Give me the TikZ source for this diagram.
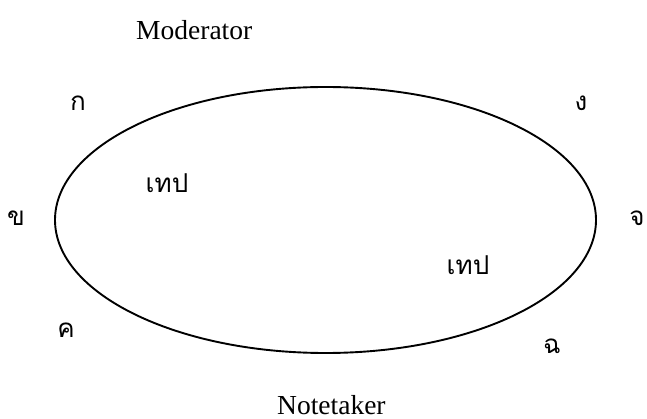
\documentclass[tikz,border=0pt]{standalone}
\usepackage{fontspec}
\setmainfont{Liberation Serif}
\newfontfamily\thaifont[Script=Thai]{Loma}
\begin{document}
\begin{tikzpicture}[x=1pt,y=-1pt,
  lbl/.style={inner sep=0pt,font=\fontsize{27.5}{30}\selectfont},
  thl/.style={inner sep=0pt,font=\thaifont\fontsize{26}{30}\selectfont}]
\useasboundingbox (0,0) rectangle (647,419);
\draw[line width=1.9pt] (325.5,220) ellipse [x radius=270.5, y radius=133];
\node[lbl,anchor=base west] (mod) at (136,40) {Moderator};
\node[lbl,anchor=base west] (note) at (277,414) {Notetaker};
\node[thl] (ka) at (78,103) {ก};
\node[thl] (ngo) at (581,103) {ง};
\node[thl] (kho) at (16,218) {ข};
\node[thl] (cho) at (637,218) {จ};
\node[thl] (kho2) at (66,330) {ค};
\node[thl] (chho) at (552,346) {ฉ};
\node[thl] (tape1) at (167,183) {เทป};
\node[thl] (tape2) at (468,265) {เทป};
\end{tikzpicture}
\end{document}
